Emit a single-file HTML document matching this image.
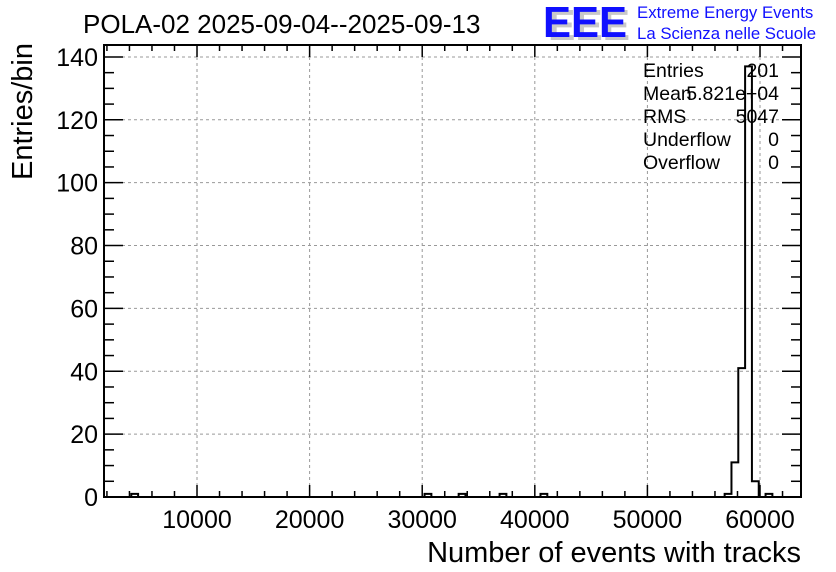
<!DOCTYPE html>
<html><head><meta charset="utf-8">
<style>
body{margin:0;background:#fff;}
svg{display:block;font-family:"Liberation Sans",sans-serif;}
</style></head>
<body>
<svg id="c" width="836" height="572" viewBox="0 0 836 572">
<g id="grid"></g>
<g id="hist"></g>
<g id="axes"></g>
<text x="83" y="33" font-size="26">POLA-02 2025-09-04--2025-09-13</text>
<g>
<text x="548" y="40" font-size="44" font-weight="bold" fill="#c8c8c8" textLength="82" lengthAdjust="spacingAndGlyphs">EEE</text>
<text x="543" y="37" font-size="44" font-weight="bold" fill="#1010ff" textLength="84" lengthAdjust="spacingAndGlyphs">EEE</text>
<text x="637" y="18" font-size="16.8" fill="#1010ff">Extreme Energy Events</text>
<text x="637" y="39" font-size="16.8" fill="#1010ff">La Scienza nelle Scuole</text>
</g>
<g font-size="19.5">
<text x="643" y="77">Entries</text><text x="779" y="77" text-anchor="end">201</text>
<text x="643" y="100">Mean</text><text x="779" y="100" text-anchor="end">5.821e+04</text>
<text x="643" y="123">RMS</text><text x="779" y="123" text-anchor="end">5047</text>
<text x="643" y="146">Underflow</text><text x="779" y="146" text-anchor="end">0</text>
<text x="643" y="169">Overflow</text><text x="779" y="169" text-anchor="end">0</text>
</g>
<text x="801" y="562" font-size="29" text-anchor="end">Number of events with tracks</text>
<text transform="translate(32,43) rotate(-90)" font-size="29" text-anchor="end">Entries/bin</text>
</svg>
<script>
const xTicks=[10000,20000,30000,40000,50000,60000];
const yTicks=[0,20,40,60,80,100,120,140];
const binStart=1740, binWidth=605.7;
const binIndex=[4,47,52,58,64,91,92,93,94,95,96,97];
const binCounts=[1,1,1,1,1,1,11,41,137,5,0,1];
const NB=102;
const L=104,R=801,T=45,B=497;
const xmin=1740,xmax=63640,ymin=0,ymax=143.8;
const X=v=>L+(v-xmin)/(xmax-xmin)*(R-L);
const Y=v=>B-(v-ymin)/(ymax-ymin)*(B-T);
const NS="http://www.w3.org/2000/svg";
function mk(p,t,a){const e=document.createElementNS(NS,t);for(const k in a)e.setAttribute(k,a[k]);p.appendChild(e);return e;}
const grid=document.getElementById('grid'),axes=document.getElementById('axes'),hist=document.getElementById('hist');
xTicks.forEach(v=>{const l=mk(grid,'line',{x1:X(v),x2:X(v),y1:T,y2:B,stroke:'#999','stroke-dasharray':'3,3'});

});
yTicks.forEach(v=>{if(v===0)return;const l=mk(grid,'line',{x1:L,x2:R,y1:Y(v),y2:Y(v),stroke:'#999','stroke-dasharray':'3,3'});

});
const counts=new Array(NB).fill(0);
binIndex.forEach((b,i)=>counts[b]=binCounts[i]);
let d='M'+L+','+Y(0);
for(let i=0;i<NB;i++){const x0=X(binStart+i*binWidth),x1=X(binStart+(i+1)*binWidth);d+=' L'+x0+','+Y(counts[i])+' L'+x1+','+Y(counts[i]);}
d+=' L'+X(binStart+NB*binWidth)+','+Y(0);
const hp=mk(hist,'path',{d:d,fill:'none',stroke:'#000','stroke-width':2});


const fr=mk(axes,'rect',{x:L,y:T,width:R-L,height:B-T,fill:'none',stroke:'#000','stroke-width':2});


for(let v=2000;v<=62000;v+=2000){const maj=v%10000===0;const len=maj?12:6;
mk(axes,'line',{x1:X(v),x2:X(v),y1:B,y2:B-len,stroke:'#000','stroke-width':1.5});
mk(axes,'line',{x1:X(v),x2:X(v),y1:T,y2:T+len,stroke:'#000','stroke-width':1.5});}
xTicks.forEach(v=>{const t=mk(axes,'text',{x:X(v),y:528,'font-size':25,'text-anchor':'middle'});t.textContent=v;

});
for(let v=0;v<=140;v+=5){const maj=v%20===0;const len=maj?19:10;
mk(axes,'line',{x1:L,x2:L+len,y1:Y(v),y2:Y(v),stroke:'#000','stroke-width':1.5});
mk(axes,'line',{x1:R,x2:R-len,y1:Y(v),y2:Y(v),stroke:'#000','stroke-width':1.5});}
yTicks.forEach(v=>{const t=mk(axes,'text',{x:98,y:Y(v)+9,'font-size':25,'text-anchor':'end'});t.textContent=v;

});
</script>
</body></html>
